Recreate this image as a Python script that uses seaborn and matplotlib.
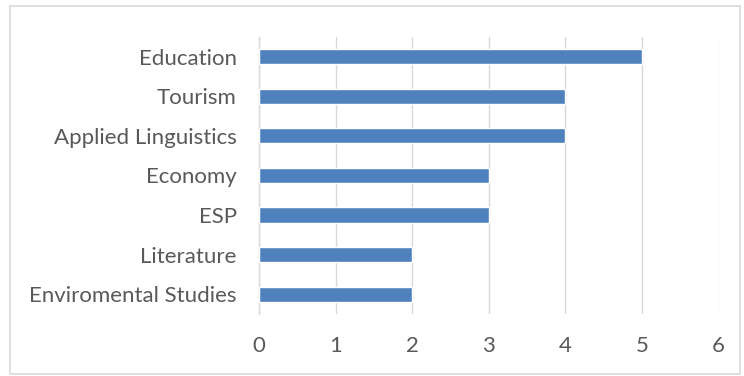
import matplotlib.pyplot as plt
import seaborn as sns
import pandas as pd
from matplotlib.patches import Rectangle

categories = ["Education", "Tourism", "Applied Linguistics", "Economy",
              "ESP", "Literature", "Enviromental Studies"]
counts = [5, 4, 4, 3, 3, 2, 2]
x_ticks = [0, 1, 2, 3, 4, 5, 6]

df = pd.DataFrame({"field": categories, "count": counts})

sns.set_style("white")
plt.rcParams["font.family"] = ["Lato", "DejaVu Sans"]

fig = plt.figure(figsize=(7.44, 3.76), dpi=100)
ax = fig.add_axes([0.348, 0.165, 0.618, 0.737])

sns.barplot(data=df, x="count", y="field", orient="h", color="#4F81BD",
            saturation=1, width=0.38, ax=ax, zorder=3)

ax.set_xlim(0, 6)
ax.set_xticks(x_ticks)
ax.set_xlabel("")
ax.set_ylabel("")
ax.grid(axis="x", color="#D9D9D9", linewidth=1.0, zorder=0)
ax.grid(axis="y", visible=False)
for s in ["top", "right", "bottom"]:
    ax.spines[s].set_visible(False)
ax.spines["left"].set_color("#D9D9D9")
ax.spines["left"].set_linewidth(1.0)
ax.tick_params(axis="both", length=0, labelsize=16, labelcolor="#595959")
ax.tick_params(axis="x", pad=16)
ax.tick_params(axis="y", pad=16)

# chart frame
fig.patches.append(Rectangle((0.014, 0.005), 0.981, 0.978, transform=fig.transFigure,
                             fill=False, edgecolor="#D9D9D9", linewidth=1.2))

fig.savefig("out.png", dpi=100)
